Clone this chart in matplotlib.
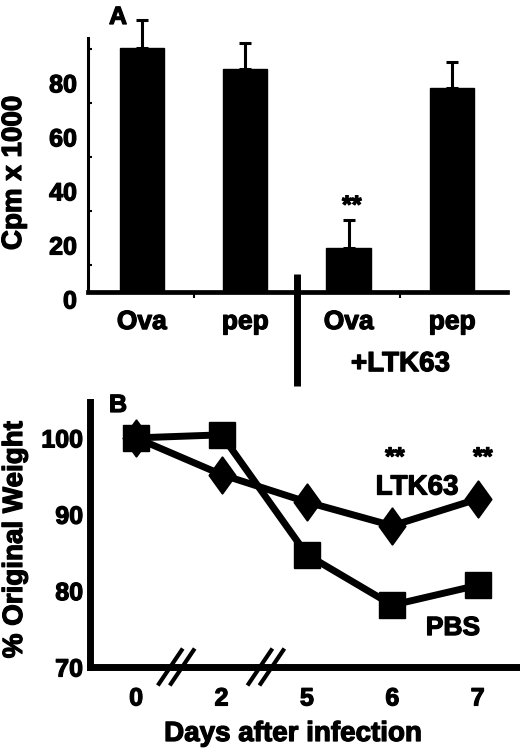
import numpy as np
import matplotlib
matplotlib.use("Agg")
import matplotlib.pyplot as plt
import matplotlib.transforms as mtransforms
import matplotlib.patheffects as pe
from matplotlib.path import Path
from matplotlib.text import Text

plt.rcParams['font.family'] = ['Liberation Sans', 'DejaVu Sans']
plt.rcParams['font.weight'] = 'bold'

# panel A data
groups = ["Ova", "pep", "Ova", "pep"]
cpm = [90.4, 82.6, 16.3, 75.6]
cpm_err = [10.3, 9.6, 10.4, 9.6]
ytick_vals = [0, 20, 40, 60, 80]

# panel B data
days = ["0", "2", "5", "6", "7"]
ltk63 = [100.0, 95.2, 91.6, 88.5, 92.0]
pbs = [100.0, 100.4, 84.7, 78.1, 80.7]
ytick_b = [70, 80, 90, 100]

W, H = 520, 751
fig = plt.figure(figsize=(W / 100, H / 100), dpi=100)

def box(l, t, r, b):
    return [l / W, 1 - b / H, (r - l) / W, (b - t) / H]

# ---------- panel A ----------
ax1 = fig.add_axes(box(88, 38, 507, 292))
x = np.arange(len(groups))
ax1.bar(x, cpm, width=0.43, color="black", edgecolor="black")
ax1.errorbar(x, cpm, yerr=[np.zeros(len(cpm)), cpm_err], fmt="none",
             ecolor="black", elinewidth=2.2, capsize=4, capthick=2.2, clip_on=False)
ax1.set_xlim(-0.52, 3.53)
ax1.set_ylim(0, 94)
for s in ["top", "right"]:
    ax1.spines[s].set_visible(False)
ax1.spines["left"].set_linewidth(2.2)
ax1.spines["bottom"].set_linewidth(3.4)

ax1.set_yticks(ytick_vals)
ax1.set_yticks(np.arange(10, 100, 10), minor=True)
ax1.tick_params(axis="y", which="major", length=0, pad=8, labelsize=18)
ax1.tick_params(axis="y", which="minor", direction="in", length=3, width=1.5)
offset = mtransforms.ScaledTranslation(0, -0.07, fig.dpi_scale_trans)
for lab in ax1.get_yticklabels():
    lab.set_transform(lab.get_transform() + offset)

ax1.set_xticks(x)
ax1.set_xticklabels(groups)
ax1.tick_params(axis="x", which="major", length=0, pad=13, labelsize=19)
ax1.set_xticks([0.5, 2.5], minor=True)
ax1.tick_params(axis="x", which="minor", direction="out", length=4, width=1.5)

# separator between groups
ax1.plot([1.5, 1.5], [6.7, -34.8], color="black", lw=5, clip_on=False,
         solid_capstyle="butt")
ax1.annotate("+LTK63", xy=(2.5, 0), xycoords=("data", "axes fraction"),
             xytext=(0, -57), textcoords="offset points",
             ha="center", va="baseline", fontsize=20)
ax1.text(2.03, 29.3, "**", ha="center", va="baseline", fontsize=18)

fig.text(118 / W, 1 - 24 / H, "A", ha="center", va="baseline", fontsize=18)
fig.text(14 / W, 1 - 173 / H, "Cpm x 1000", rotation=90, ha="center",
         va="center", fontsize=20)

# ---------- panel B ----------
ax2 = fig.add_axes(box(90, 402, 517, 667))
xd = np.arange(len(days))
# tall diamond, like the original symbol
diamond = Path([(-0.36, 0), (0, 0.5), (0.36, 0), (0, -0.5), (-0.36, 0)],
               [Path.MOVETO, Path.LINETO, Path.LINETO, Path.LINETO, Path.CLOSEPOLY])
ax2.plot(xd, pbs, color="black", lw=5, marker="s", markersize=19,
         markeredgewidth=1, clip_on=False)
ax2.plot(xd, ltk63, color="black", lw=5, marker=diamond, markersize=26,
         markeredgewidth=1.5, clip_on=False)
ax2.set_xlim(-0.54, 4.46)
ax2.set_ylim(70, 104.7)
for s in ["top", "right"]:
    ax2.spines[s].set_visible(False)
ax2.spines["left"].set_linewidth(5)
ax2.spines["bottom"].set_linewidth(5)
ax2.set_yticks(ytick_b)
ax2.tick_params(axis="y", length=0, pad=5, labelsize=18)
ax2.set_xticks(xd)
ax2.set_xticklabels(days)
ax2.tick_params(axis="x", length=0, pad=14, labelsize=18)

# axis break marks
for c in [0.47, 1.52]:
    for d in [-0.07, 0.07]:
        ax2.plot([c + d - 0.146, c + d + 0.146], [70 - 2.42, 70 + 2.42],
                 color="black", lw=3, clip_on=False, solid_capstyle="butt")

ax2.text(3.29, 93.5, "LTK63", ha="center", va="center", fontsize=20)
ax2.text(3.71, 75.1, "PBS", ha="center", va="center", fontsize=19)
ax2.text(3.03, 96.5, "**", ha="center", va="baseline", fontsize=18)
ax2.text(4.06, 96.5, "**", ha="center", va="baseline", fontsize=18)

fig.text(118 / W, 1 - 412 / H, "B", ha="center", va="baseline", fontsize=18)
fig.text(15 / W, 1 - 540 / H, "% Original Weight", rotation=90, ha="center",
         va="center", fontsize=20)
fig.text(293 / W, 1 - 741 / H, "Days after infection", ha="center",
         va="baseline", fontsize=20)

# the original lettering is heavier than Liberation Sans Bold
for t in fig.findobj(Text):
    t.set_path_effects([pe.withStroke(linewidth=0.9, foreground="black")])

fig.savefig("out.png", dpi=100)
